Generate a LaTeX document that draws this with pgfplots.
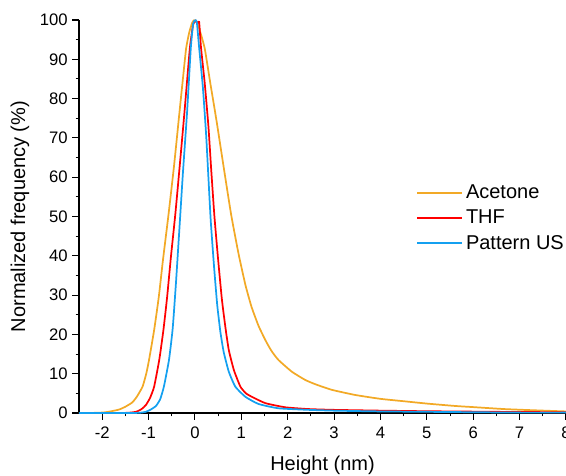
\documentclass[border=0pt]{standalone}
\usepackage{pgfplots}
\pgfplotsset{compat=1.18}
\usepackage{fontspec}
\setmainfont{Liberation Sans}
\definecolor{cAce}{RGB}{242,169,38}
\definecolor{cTHF}{RGB}{255,0,0}
\definecolor{cPat}{RGB}{20,160,240}
\begin{document}
\begin{tikzpicture}
\begin{axis}[
  scale only axis,
  width=365.25pt, height=294.75pt,
  xmin=-2.5, xmax=8, ymin=0, ymax=100,
  axis x line*=bottom, axis y line*=left,
  axis line style={line width=0.9pt, -},
  xtick={-2,-1,0,1,2,3,4,5,6,7,8},
  ytick={0,10,20,30,40,50,60,70,80,90,100},
  minor x tick num=1, minor y tick num=1,
  tick align=outside,
  major tick length=5pt, minor tick length=2.5pt,
  every tick/.style={black, line width=0.8pt},
  tick label style={font=\fontsize{12.5}{15}\selectfont},
  xticklabel style={yshift=-2pt},
  /pgf/number format/assume math mode=true,
  label style={font=\fontsize{15}{18}\selectfont},
  xlabel={Height (nm)}, ylabel={Normalized frequency (\%)},
  xlabel style={yshift=-6pt},
  ylabel style={yshift=1pt},
  legend style={draw=none, fill=none, at={(rel axis cs:0.692,0.588)}, anchor=north west,
    font=\fontsize{15}{18}\selectfont, row sep=3pt, inner sep=0pt},
  legend cell align=left,
  legend image code/.code={\draw[#1] (0pt,0pt) -- (34pt,0pt);},
  clip=false,
  every axis plot/.append style={smooth, tension=0.3, line width=1.3pt},
]
\addplot[cAce] coordinates {
(-2.5,0) (-2.1,0.05) (-1.92,0.2) (-1.78,0.5) (-1.63,0.9) (-1.5,1.6) (-1.35,2.7) (-1.25,4.2)
(-1.13,6.7) (-1.05,10) (-0.99,13.5) (-0.88,21.1) (-0.78,29.5) (-0.69,38.9) (-0.57,50.5)
(-0.45,63) (-0.34,75.8) (-0.26,85) (-0.19,92.8) (-0.12,97) (-0.06,99.3) (-0.02,99.9)
(0.03,99.6) (0.1,97.5) (0.21,92.8) (0.33,84) (0.47,74) (0.62,62.5) (0.78,50.5) (0.94,40.5)
(1.09,32.5) (1.22,27) (1.37,22.2) (1.52,18.5) (1.65,15.8) (1.80,13.5) (2.09,10.5) (2.38,8.4)
(2.6,7.3) (2.95,5.9) (3.45,4.6) (4.0,3.6) (4.5,3.0) (5.0,2.4) (5.6,1.8) (6.0,1.5)
(6.67,1.0) (7.3,0.7) (8,0.4)
};
\addlegendentry{Acetone}
\addplot[cTHF] coordinates {
(-2.5,0) (-1.6,0) (-1.4,0.1) (-1.27,0.3) (-1.15,1.0) (-1.06,2.0) (-0.97,3.8) (-0.88,6.7)
(-0.77,13.5) (-0.68,21.1) (-0.60,29.5) (-0.52,39.5) (-0.42,51) (-0.32,64) (-0.23,76)
(-0.11,92.8) (-0.04,98.8) (0.01,99.8) (0.05,99.2) (0.09,99.5) (0.13,93) (0.21,84)
(0.29,73) (0.35,62) (0.42,50) (0.50,39) (0.58,29) (0.66,21.5) (0.73,16) (0.84,10.9)
(0.98,6.7) (1.1,5) (1.23,4.1) (1.52,2.5) (1.95,1.45) (2.45,1.0) (3,0.8) (4,0.6) (5,0.45)
(6,0.35) (7,0.25) (8,0.2)
};
\addlegendentry{THF}
\addplot[cPat] coordinates {
(-2.5,0) (-1.5,0) (-1.2,0.05) (-1.06,0.3) (-0.95,0.9) (-0.84,1.8) (-0.75,3.5) (-0.67,6.7)
(-0.56,13.5) (-0.48,21.5) (-0.41,33) (-0.34,46) (-0.26,61) (-0.17,76.5) (-0.09,92.8)
(-0.04,99) (0.0,99.9) (0.04,99.5) (0.09,93) (0.17,83) (0.24,71) (0.29,60) (0.34,49)
(0.41,37.5) (0.48,27.5) (0.55,20.5) (0.62,15.5) (0.73,10.5) (0.87,6.7) (1.09,4.1) (1.37,2.3)
(1.8,1.2) (2.45,0.8) (3,0.6) (4,0.4) (5,0.3) (6,0.2) (7,0.1) (8,0.1)
};
\addlegendentry{Pattern US}
\coordinate (sw) at (rel axis cs:0,0);
\coordinate (ne) at (rel axis cs:1,1);
\end{axis}
\pgfresetboundingbox
\path[use as bounding box] ([shift={(-59.25pt,-46.5pt)}]sw) rectangle ([shift={(0pt,15pt)}]ne);
\end{tikzpicture}
\end{document}
